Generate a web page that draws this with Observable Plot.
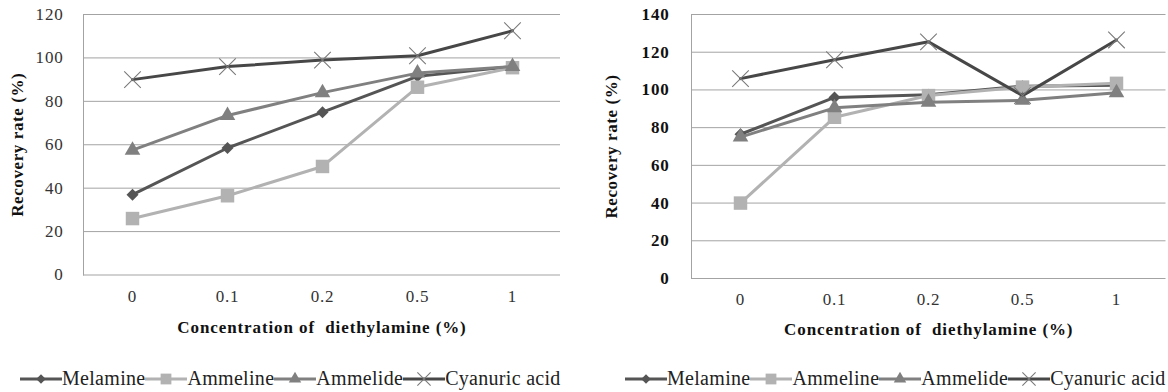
<!DOCTYPE html>
<html>
<head>
<meta charset="utf-8">
<script src="https://cdn.jsdelivr.net/npm/d3@7"></script>
<script src="https://cdn.jsdelivr.net/npm/@observablehq/plot@0.6"></script>
<style>
  html, body { margin: 0; padding: 0; background: #fff; }
  #wrap { position: relative; width: 1168px; height: 392px; overflow: hidden; font-family: "Liberation Serif", "DejaVu Serif", serif; }
  .panel { position: absolute; top: 0; }
  .legend { position: absolute; top: 367px; display: flex; align-items: center; font-size: 20px; letter-spacing: 0.3px; color: #222; white-space: nowrap; font-family: "Liberation Serif", "DejaVu Serif", serif; }
  .legend .item { display: flex; align-items: center; }
  .legend svg { display: block; }
  g[aria-label="x-axis label"] text { font-weight: bold; font-size: 17px; letter-spacing: 0.9px; fill: #111; }
  g[aria-label="y-axis label"] text { font-weight: bold; font-size: 17px; letter-spacing: 0.6px; fill: #111; }
  g[aria-label="x-axis tick label"] text, g[aria-label="y-axis tick label"] text { letter-spacing: 0.8px; }
  #p2 g[aria-label="y-axis tick label"] { font-weight: bold; fill: #111; }
</style>
</head>
<body>
<div id="wrap">
  <div id="p1" class="panel" style="left:0px"></div>
  <div id="p2" class="panel" style="left:580px"></div>
  <div id="l1" class="legend" style="left:20px"></div>
  <div id="l2" class="legend" style="left:625px"></div>
</div>
<script>
// ---- data ----
const categories = ["0", "0.1", "0.2", "0.5", "1"];
const seriesNames = ["Melamine", "Ammeline", "Ammelide", "Cyanuric acid"];
const xTitle = "Concentration of  diethylamine (%)";
const yTitle = "Recovery rate (%)";

// left panel
const melamineA = [37, 58.5, 75, 91.5, 96];
const ammelineA = [26, 36.5, 50, 86.5, 95.5];
const ammelideA = [57.5, 73.5, 84, 93, 96];
const cyanuricA = [90, 96, 99, 101, 112.5];
const yTicksA = [0, 20, 40, 60, 80, 100, 120];

// right panel
const melamineB = [76.5, 96, 97.5, 102, 102.5];
const ammelineB = [40, 85.5, 97, 101.5, 103.5];
const ammelideB = [75, 90.5, 93.5, 94.5, 98.5];
const cyanuricB = [106, 116, 125.5, 97, 126.5];
const yTicksB = [0, 20, 40, 60, 80, 100, 120, 140];

// ---- styles ----
const FONT = '"Liberation Serif", "DejaVu Serif", serif';
const styles = {
  "Melamine":      {line: "#555555", fill: "#555555", stroke: "none", symbol: "diamond2", r: 5.4},
  "Ammeline":      {line: "#b2b2b2", fill: "#b2b2b2", stroke: "none", symbol: "square", r: 7.6},
  "Ammelide":      {line: "#808080", fill: "#808080", stroke: "none", symbol: "triangle", r: 5.8},
  "Cyanuric acid": {line: "#474747", fill: "none", stroke: "#7a7a7a", symbol: "times", r: 7.6}
};

function toRows(arrays) {
  const rows = [];
  seriesNames.forEach((s, si) => {
    categories.forEach((c, ci) => rows.push({series: s, x: c, y: arrays[si][ci]}));
  });
  return rows;
}

function makePanel(rows, yTicks, cfg) {
  const marks = [
    Plot.gridY(yTicks, {stroke: "#a3a3a3", strokeOpacity: 1, strokeWidth: 1}),
    Plot.frame({anchor: "left", stroke: "#a3a3a3", strokeWidth: 1}),
    Plot.axisX({tickSize: 0, tickPadding: cfg.xPad, fontSize: 17, fontFamily: FONT, label: xTitle, labelAnchor: "center", labelOffset: cfg.xLabelOffset, labelArrow: "none"}),
    Plot.axisY(yTicks, {tickSize: 0, tickPadding: cfg.yPad, fontSize: 17, fontFamily: FONT, tickFormat: d => String(d), label: yTitle, labelAnchor: "center", labelOffset: cfg.yLabelOffset, labelArrow: "none"})
  ];
  seriesNames.forEach(s => {
    const st = styles[s];
    const data = rows.filter(d => d.series === s);
    marks.push(Plot.line(data, {x: "x", y: "y", stroke: st.line, strokeWidth: 3, strokeLinejoin: "round"}));
    marks.push(Plot.dot(data, {x: "x", y: "y", symbol: () => st.symbol, r: st.r, fill: st.fill, stroke: st.stroke, strokeWidth: 1.1}));
  });
  return Plot.plot({
    width: cfg.width,
    height: 345,
    marginLeft: cfg.marginLeft,
    marginRight: cfg.marginRight,
    marginTop: 14,
    marginBottom: cfg.marginBottom,
    style: {fontFamily: FONT, background: "transparent", color: "#333", overflow: "visible"},
    x: {type: "point", domain: categories, padding: 0.5},
    y: {domain: [0, yTicks[yTicks.length - 1]]},
    symbol: {type: "identity"},
    marks
  });
}

document.getElementById("p1").appendChild(makePanel(toRows([melamineA, ammelineA, ammelideA, cyanuricA]), yTicksA,
  {width: 580, marginLeft: 83, marginRight: 20, marginBottom: 70.5, xPad: 15, yPad: 20, xLabelOffset: 58, yLabelOffset: 73}));
document.getElementById("p2").appendChild(makePanel(toRows([melamineB, ammelineB, ammelideB, cyanuricB]), yTicksB,
  {width: 588, marginLeft: 111, marginRight: 2.5, marginBottom: 67, xPad: 14, yPad: 22, xLabelOffset: 56, yLabelOffset: 87}));

// ---- legends ----
function buildLegend(id) {
  const box = d3.select("#" + id);
  seriesNames.forEach(s => {
    const st = styles[s];
    const item = box.append("div").attr("class", "item");
    const svg = item.append("svg").attr("width", 42).attr("height", 20);
    svg.append("line").attr("x1", 0).attr("x2", 42).attr("y1", 10).attr("y2", 10)
      .attr("stroke", st.line).attr("stroke-width", 3);
    const symMap = {diamond2: d3.symbolDiamond2, square: d3.symbolSquare, triangle: d3.symbolTriangle, times: d3.symbolTimes};
    const sr = st.r * 0.8;
    svg.append("path").attr("transform", "translate(21,10)")
      .attr("d", d3.symbol(symMap[st.symbol], Math.PI * sr * sr)())
      .attr("fill", st.fill).attr("stroke", st.stroke).attr("stroke-width", 1.1);
    item.append("span").text(s);
  });
}
buildLegend("l1");
buildLegend("l2");
</script>
</body>
</html>
